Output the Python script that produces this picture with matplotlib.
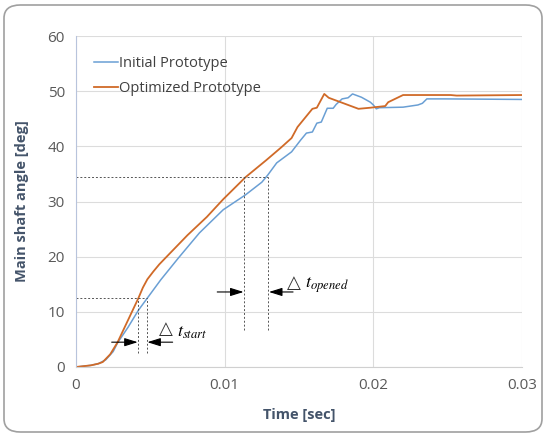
import matplotlib
matplotlib.use('Agg')
import matplotlib.pyplot as plt
from matplotlib.patches import FancyBboxPatch

plt.rcParams['font.family'] = ['Open Sans', 'DejaVu Sans']
plt.rcParams['mathtext.fontset'] = 'stix'

# dades llegides del gràfic
t_initial = [0, 0.001, 0.0015, 0.002, 0.0025, 0.0028, 0.0035, 0.0042, 0.0048, 0.0057,
             0.0069, 0.0083, 0.0099, 0.0114, 0.0125, 0.0129, 0.0135, 0.0145, 0.0151,
             0.0155, 0.0159, 0.0162, 0.0165, 0.0169, 0.0173, 0.0175, 0.0179, 0.0183,
             0.0186, 0.0192, 0.0198, 0.0200, 0.0202, 0.0204, 0.0220, 0.0230, 0.0233,
             0.0236, 0.0248, 0.0300]
deg_initial = [0, 0.3, 0.6, 1.3, 2.8, 4.4, 7.2, 10.3, 12.5, 15.8,
               19.8, 24.3, 28.5, 31.2, 33.5, 34.8, 37.0, 39.0, 41.1,
               42.4, 42.6, 44.2, 44.4, 46.9, 46.9, 47.6, 48.6, 48.8,
               49.5, 48.9, 48.0, 47.5, 46.8, 47.0, 47.1, 47.5, 47.8,
               48.6, 48.6, 48.5]

t_optimized = [0, 0.001, 0.0015, 0.0018, 0.0023, 0.0028, 0.0035, 0.0042, 0.0045, 0.0048,
               0.0052, 0.0056, 0.0061, 0.0075, 0.0088, 0.0099, 0.0114, 0.0128, 0.0138,
               0.0145, 0.0149, 0.0159, 0.0162, 0.0164, 0.0167, 0.0170, 0.0190, 0.0198,
               0.0208, 0.0210, 0.0220, 0.0252, 0.0256, 0.0300]
deg_optimized = [0, 0.3, 0.6, 0.9, 2.3, 4.5, 8.5, 12.5, 14.4, 15.9,
                 17.3, 18.6, 20.0, 23.9, 27.2, 30.4, 34.4, 37.5, 39.8,
                 41.5, 43.5, 46.8, 47.0, 48.0, 49.5, 48.8, 46.8, 47.0,
                 47.3, 48.0, 49.3, 49.3, 49.2, 49.3]

# línies de referència (start i opened)
ref_start_deg = 12.5
ref_start_t = [0.0042, 0.00475]
ref_opened_deg = 34.4
ref_opened_t = [0.01132, 0.01293]

fig = plt.figure(figsize=(5.47, 4.38), dpi=100)
ax = fig.add_axes([76 / 547, 1 - 367 / 438, 446 / 547, 331 / 438])

# marc arrodonit
frame = FancyBboxPatch((4 / 547, 6 / 438), 538 / 547, 427 / 438,
                       boxstyle='round,pad=0,rounding_size=0.03',
                       transform=fig.transFigure, facecolor='none',
                       edgecolor='#a0a0a0', linewidth=1.2)
fig.patches.append(frame)

c_blue = '#6A9FD4'
c_orange = '#D06A28'

ax.plot(t_initial, deg_initial, color=c_blue, lw=1.1, label='Initial Prototype')
ax.plot(t_optimized, deg_optimized, color=c_orange, lw=1.3, label='Optimized Prototype')

dash = dict(color='#555555', lw=0.7, ls=(0, (2, 2)))
ax.plot([0, ref_start_t[1]], [ref_start_deg, ref_start_deg], **dash)
ax.plot([0, ref_opened_t[1]], [ref_opened_deg, ref_opened_deg], **dash)
for tt in ref_start_t:
    ax.plot([tt, tt], [2.5, ref_start_deg], **dash)
for tt in ref_opened_t:
    ax.plot([tt, tt], [6.7, ref_opened_deg], **dash)

arr = dict(arrowstyle='-|>,head_length=0.8,head_width=0.25', color='black', lw=0.8,
           shrinkA=0, shrinkB=0)
ax.annotate('', xy=(ref_start_t[0] - 0.00005, 4.5), xytext=(0.0024, 4.5), arrowprops=arr)
ax.annotate('', xy=(ref_start_t[1] + 0.00005, 4.5), xytext=(0.0065, 4.5), arrowprops=arr)
ax.annotate('', xy=(ref_opened_t[0] - 0.00005, 13.6), xytext=(0.0095, 13.6), arrowprops=arr)
ax.annotate('', xy=(ref_opened_t[1] + 0.00005, 13.6), xytext=(0.0146, 13.6), arrowprops=arr)

# etiquetes delta t
tri = dict(fontsize=13, va='center', family=['DejaVu Sans'], color='#333333')
ax.text(0.00558, 6.8, '△', **tri)
ax.text(0.00680, 6.3, r'$t_{start}$', fontsize=13, va='center')
ax.text(0.01418, 15.3, '△', **tri)
ax.text(0.01540, 14.8, r'$t_{opened}$', fontsize=13, va='center')

ax.set_xlim(0, 0.03)
ax.set_ylim(0, 60)
ax.set_xticks([0, 0.01, 0.02, 0.03])
ax.set_xticklabels(['0', '0.01', '0.02', '0.03'])
ax.set_yticks(range(0, 61, 10))
ax.grid(True, color='#dcdcdc', lw=0.8)
ax.set_axisbelow(True)
ax.tick_params(length=0, labelsize=11, labelcolor='#595959', pad=8)
for s in ['top', 'right']:
    ax.spines[s].set_visible(False)
ax.spines['left'].set_color('#b8c4dc')
ax.spines['bottom'].set_color('#d0d0d0')

ax.set_xlabel('Time [sec]', fontsize=10.5, fontweight='bold', color='#44546A', labelpad=11)
ax.set_ylabel('Main shaft angle [deg]', fontsize=10.5, fontweight='bold', color='#44546A', labelpad=13)

ax.legend(loc='upper left', bbox_to_anchor=(0.01, 0.98), frameon=False, fontsize=10.5,
          handlelength=1.7, handletextpad=0.05, labelcolor='#404040', labelspacing=0.7)

fig.savefig('out.png', dpi=100)
